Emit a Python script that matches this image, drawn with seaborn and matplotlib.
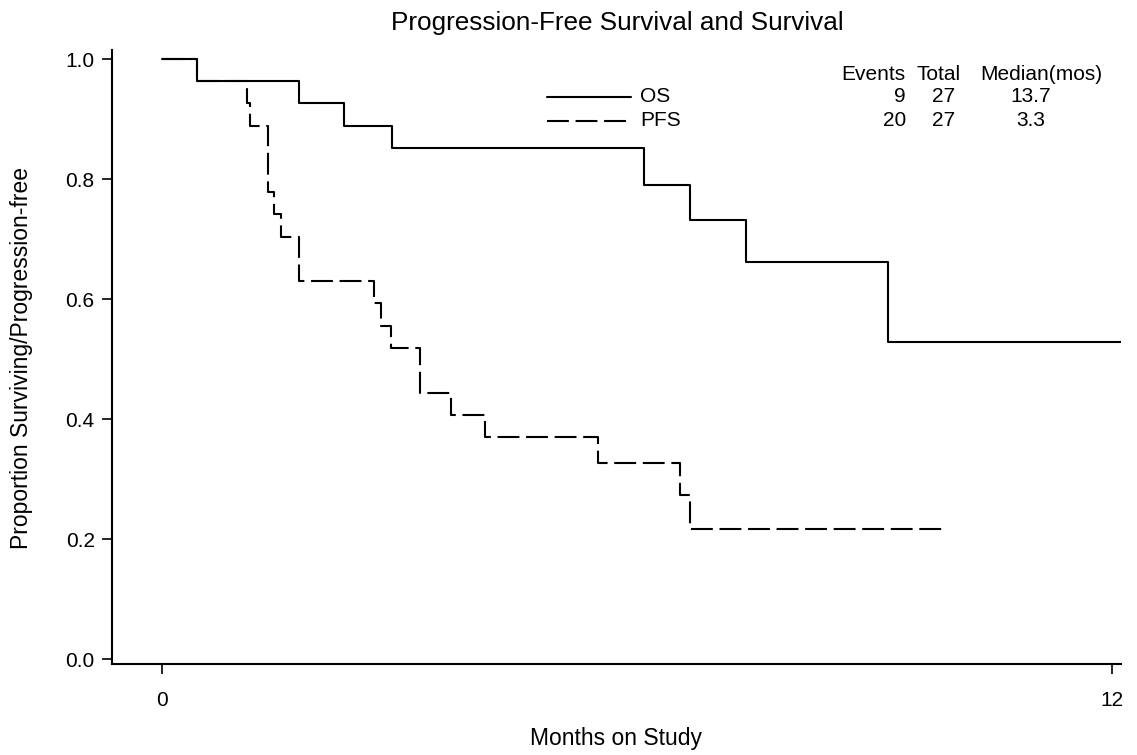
import matplotlib
matplotlib.use("Agg")
import matplotlib.pyplot as plt
from matplotlib.lines import Line2D
import pandas as pd
import seaborn as sns

# ── Data ──────────────────────────────────────────────────────────────────────
os_months = [0, 0.435, 1.73, 2.30, 2.90, 6.09, 6.67, 7.38, 9.17, 12.12]
os_surv = [1.0, 0.963, 0.926, 0.889, 0.852, 0.790, 0.731, 0.662, 0.529, 0.529]

pfs_months = [0, 0.435, 1.07, 1.11, 1.34, 1.41, 1.50, 1.73, 2.67, 2.76, 2.89,
              3.26, 3.65, 4.08, 5.51, 6.54, 6.67, 9.87]
pfs_surv = [1.0, 0.963, 0.926, 0.889, 0.778, 0.741, 0.704, 0.630, 0.593, 0.556,
            0.519, 0.444, 0.407, 0.370, 0.327, 0.273, 0.217, 0.217]

curves = ["OS", "PFS"]
events = [9, 20]
totals = [27, 27]
medians = ["13.7", "3.3"]

x_ticks = [0, 12]
y_ticks = [0.0, 0.2, 0.4, 0.6, 0.8, 1.0]

# ── Style ─────────────────────────────────────────────────────────────────────
sns.set_style("ticks")
plt.rcParams["font.family"] = ["Liberation Sans", "DejaVu Sans"]
plt.rcParams["text.color"] = "black"

W, H = 1137, 755


def fx(px):
    return px / W


def fy(py):
    return 1 - py / H


df = pd.concat([
    pd.DataFrame({"months": os_months, "surv": os_surv, "curve": "OS"}),
    pd.DataFrame({"months": pfs_months, "surv": pfs_surv, "curve": "PFS"}),
], ignore_index=True)

fig = plt.figure(figsize=(W / 100, H / 100), dpi=100)
ax = fig.add_axes([fx(112), fy(664), fx(1121) - fx(112), fy(50) - fy(664)])

dash_pfs = (10.5, 3.2)
sns.lineplot(
    data=df, x="months", y="surv", style="curve",
    dashes={"OS": "", "PFS": dash_pfs}, color="black", linewidth=1.5,
    drawstyle="steps-post", estimator=None, sort=False, legend=False, ax=ax,
)

ax.set_xlim(-0.636, 12.12)
ax.set_ylim(-0.0078, 1.015)
ax.set_xticks(x_ticks)
ax.set_xticklabels([str(t) for t in x_ticks])
ax.set_yticks(y_ticks)
ax.set_yticklabels([f"{t:.1f}" for t in y_ticks])
ax.set_xlabel("")
ax.set_ylabel("")
sns.despine(ax=ax)
for s in ("left", "bottom"):
    ax.spines[s].set_linewidth(1.5)
    ax.spines[s].set_color("black")
ax.tick_params(axis="both", length=7.5, width=1.2, color="black",
               labelsize=15, labelcolor="black")
ax.tick_params(axis="x", pad=12)
ax.tick_params(axis="y", pad=5)

fig.text(fx(617), fy(23), "Progression-Free Survival and Survival",
         ha="center", va="center", fontsize=18.8)
fig.text(fx(616), fy(738), "Months on Study", ha="center", va="center",
         fontsize=16.5)
fig.text(fx(22), fy(358), "Proportion Surviving/Progression-free",
         ha="center", va="center", rotation=90, fontsize=16.5)

# ── Legend table ──────────────────────────────────────────────────────────────
fs = 15
hdr_y = 74
fig.text(fx(905), fy(hdr_y), "Events", ha="right", va="center", fontsize=fs)
fig.text(fx(939), fy(hdr_y), "Total", ha="center", va="center", fontsize=fs)
fig.text(fx(1041), fy(hdr_y), "Median(mos)", ha="center", va="center", fontsize=fs)

row_y = [97, 121]
styles = ["-", "--"]
for i, name in enumerate(curves):
    ln = Line2D([fx(547), fx(631)], [fy(row_y[i]), fy(row_y[i])],
                transform=fig.transFigure, color="black", linewidth=1.5,
                linestyle=styles[i])
    if styles[i] == "--":
        ln.set_dashes(dash_pfs)
    fig.add_artist(ln)
    fig.text(fx(640), fy(row_y[i]), name, ha="left", va="center", fontsize=fs)
    fig.text(fx(906), fy(row_y[i]), str(events[i]), ha="right",
             va="center", fontsize=fs)
    fig.text(fx(944), fy(row_y[i]), str(totals[i]), ha="center",
             va="center", fontsize=fs)
    fig.text(fx(1031), fy(row_y[i]), medians[i], ha="center",
             va="center", fontsize=fs)

fig.savefig("out.png", dpi=100)
